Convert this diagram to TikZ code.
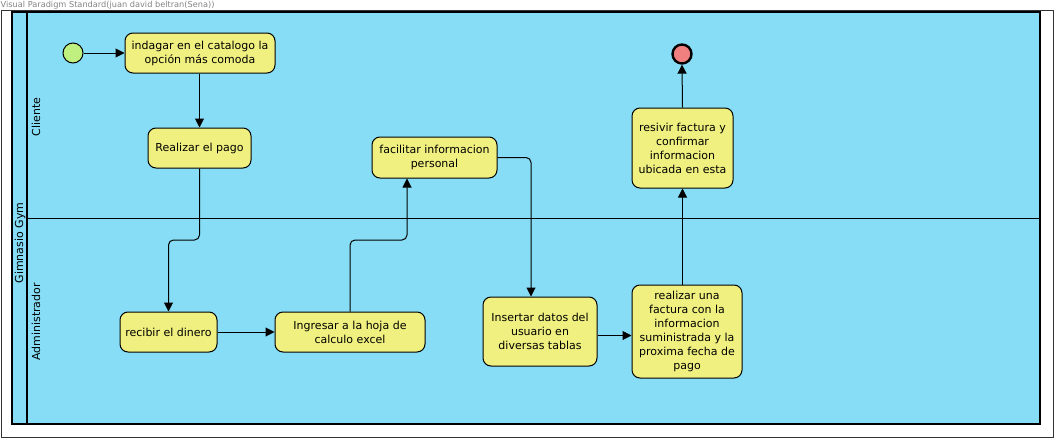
\documentclass[tikz,border=0pt]{standalone}
\usepackage{fontspec}
\setmainfont{DejaVu Sans}
\usetikzlibrary{arrows.meta}
\definecolor{poolblue}{RGB}{135,221,245}
\definecolor{actyellow}{RGB}{240,240,128}
\definecolor{initgreen}{RGB}{192,240,128}
\definecolor{finalred}{RGB}{240,128,128}
\definecolor{hdrgray}{RGB}{130,130,130}
\tikzset{
  act/.style={draw=black, line width=1pt, fill=actyellow, rounded corners=8pt,
    align=center, inner sep=2pt, font=\fontsize{11}{14}\selectfont},
  flow/.style={draw=black, line width=1pt, rounded corners=5pt,
    -{Triangle[length=9pt,width=9pt]}},
  lanelbl/.style={rotate=90, font=\fontsize{11}{13}\selectfont, inner sep=0pt},
}
\begin{document}
\begin{tikzpicture}[x=1pt,y=-1pt]
\useasboundingbox (0,0) rectangle (1054,439);
% outer frame
\draw[line width=0.8pt, draw=black!80] (1,10) rectangle (1053,437);
\node[anchor=west, text=hdrgray, font=\fontsize{8.2}{9}\selectfont, inner sep=0pt] (hdr) at (0.5,5) {Visual Paradigm Standard(juan david beltran(Sena))};
% pool
\draw[fill=poolblue, line width=1.4pt] (12,12) rectangle (1040,424);
\draw[line width=2.2pt] (27,12) -- (27,424);
\draw[line width=1pt] (27,218) -- (1040,218);
\node[lanelbl] (pool) at (20,243) {Gimnasio Gym};
\node[lanelbl] (laneA) at (36,117) {Cliente};
\node[lanelbl] (laneB) at (36,322) {Administrador};
% nodes
\node[circle, draw=black, line width=1pt, fill=initgreen, minimum size=20pt, inner sep=0pt] (init) at (73,53) {};
\node[circle, draw=black, line width=2.4pt, fill=finalred, minimum size=19pt, inner sep=0pt] (final) at (682,54) {};
\node[act, minimum width=150pt, minimum height=40pt] (A1) at (200,53) {indagar en el catalogo la\\opción más comoda};
\node[act, minimum width=103pt, minimum height=40pt] (A2) at (199.5,148) {Realizar el pago};
\node[act, minimum width=125pt, minimum height=41pt] (A3) at (434.5,157.5) {facilitar informacion\\personal};
\node[act, minimum width=97pt, minimum height=40pt] (A4) at (168.5,332) {recibir el dinero};
\node[act, minimum width=150pt, minimum height=40pt] (A5) at (350,332) {Ingresar a la hoja de\\calculo excel};
\node[act, minimum width=114pt, minimum height=69pt] (A6) at (540,331.5) {Insertar datos del\\usuario en\\diversas tablas};
\node[act, minimum width=110pt, minimum height=93pt] (A7) at (687,331.5) {realizar una\\factura con la\\informacion\\suministrada y la\\proxima fecha de\\pago};
\node[act, minimum width=101pt, minimum height=80pt] (A8) at (682.5,148) {resivir factura y\\confirmar\\informacion\\ubicada en esta};
% connectors
\draw[flow] (init) -- (A1);
\draw[flow] (A1.south -| A2.north) -- (A2.north);
\draw[flow] (A2.south) -- (199.5,240) -| (A4.north);
\draw[flow] (A4) -- (A5);
\coordinate (a3in) at ([xshift=-27.5pt]A3.south);
\draw[flow] (A5.north) -- (350,240) -| (a3in);
\coordinate (a6in) at ([xshift=-9pt]A6.north);
\draw[flow] (A3.east) -| (a6in);
\coordinate (a6out) at ([yshift=-4pt]A6.east);
\coordinate (a7in) at ([yshift=-4pt]A7.west);
\draw[flow] (a6out) -- (a7in);
\draw[flow] (A8.south |- A7.north) -- (A8.south);
\draw[flow] (A8.north) -- (final.south);
\end{tikzpicture}
\end{document}
